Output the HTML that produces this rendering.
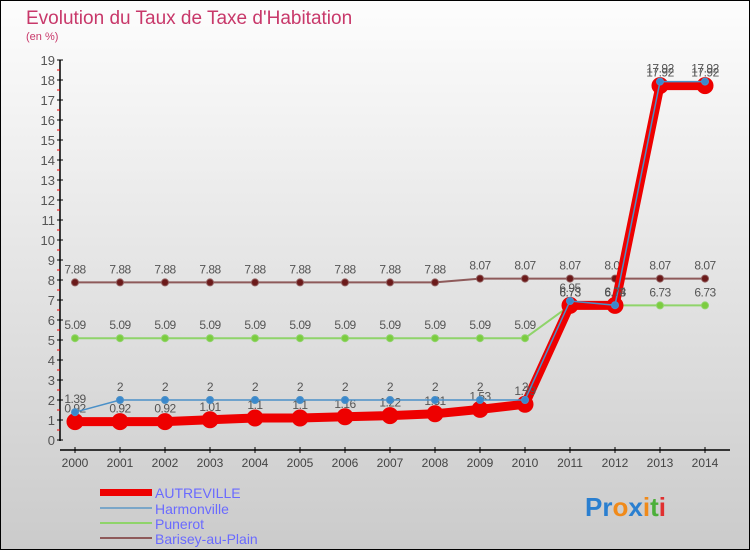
<!DOCTYPE html>
<html><head><meta charset="utf-8"><style>
body{margin:0;width:750px;height:550px;overflow:hidden;font-family:"Liberation Sans",sans-serif}
#wrap{position:absolute;left:0;top:0;width:748px;height:548px;border:1px solid #000;background:linear-gradient(#fdfdfd,#cbcbcb)}
</style></head><body>
<div id="wrap">
<svg id="chart" width="750" height="550" style="position:absolute;left:-1px;top:-1px">
<text x="26" y="24" font-size="19" fill="#c8386a">Evolution du Taux de Taxe d'Habitation</text>
<text x="26" y="40" font-size="11" fill="#c8386a">(en %)</text>
<g id="axes"></g><g id="series"></g>
<g>
<rect x="100" y="489" width="52" height="7" fill="#e00"/>
<text x="155" y="498" font-size="14" fill="#6a6aff">AUTREVILLE</text>
<rect x="100" y="507" width="52" height="2" fill="#7aa6c8"/>
<text x="155" y="514" font-size="14" fill="#6a6aff">Harmonville</text>
<rect x="100" y="522" width="52" height="2" fill="#8fd46a"/>
<text x="155" y="529" font-size="14" fill="#6a6aff">Punerot</text>
<rect x="100" y="537" width="52" height="2" fill="#8e5a5a"/>
<text x="155" y="544" font-size="14" fill="#6a6aff">Barisey-au-Plain</text>
</g>
<text x="585" y="516" font-size="26" font-weight="bold"><tspan fill="#2a7fd0">Pr</tspan><tspan fill="#f08a1a">o</tspan><tspan fill="#2a7fd0">x</tspan><tspan fill="#f08a1a">i</tspan><tspan fill="#4caf3a">t</tspan><tspan fill="#e03030">i</tspan></text>
</svg></div>
<script>
const years=[2000,2001,2002,2003,2004,2005,2006,2007,2008,2009,2010,2011,2012,2013,2014];
const autreville=[0.92,0.92,0.92,1.01,1.1,1.1,1.16,1.22,1.31,1.53,1.79,6.73,6.73,17.72,17.72];
const autrevilleLabels=["0.92","0.92","0.92","1.01","1.1","1.1","1.16","1.22","1.31","1.53","1.79","6.73","6.73","17.92","17.92"];
const harmonville=[1.39,2,2,2,2,2,2,2,2,2,2,6.95,6.74,17.92,17.92];
const punerot=[5.09,5.09,5.09,5.09,5.09,5.09,5.09,5.09,5.09,5.09,5.09,6.73,6.73,6.73,6.73];
const barisey=[7.88,7.88,7.88,7.88,7.88,7.88,7.88,7.88,7.88,8.07,8.07,8.07,8.07,8.07,8.07];
const yTicks=[0,1,2,3,4,5,6,7,8,9,10,11,12,13,14,15,16,17,18,19];
const NS="http://www.w3.org/2000/svg";
const xs=i=>75+i*45, ys=v=>440-v*20;
function mk(t,a,p){const e=document.createElementNS(NS,t);for(const k in a)e.setAttribute(k,a[k]);p.appendChild(e);return e;}
const ax=document.getElementById('axes');
let l=mk('line',{x1:60,y1:60,x2:60,y2:441,stroke:'#000','stroke-width':1.5},ax);


yTicks.forEach(v=>{
 mk('line',{x1:57,x2:63,y1:ys(v),y2:ys(v),stroke:'#000'},ax);
 if(v<19)mk('line',{x1:57,x2:60,y1:ys(v+0.5),y2:ys(v+0.5),stroke:'#e00'},ax);
 const t=mk('text',{x:55,y:ys(v)+5,'font-size':13,fill:'#555','text-anchor':'end'},ax);t.textContent=v;
 
 
});
l=mk('line',{x1:60,y1:450,x2:730,y2:450,stroke:'#000','stroke-width':1.5},ax);


years.forEach((y,i)=>{
 mk('line',{x1:xs(i),x2:xs(i),y1:447,y2:453,stroke:'#000'},ax);
 const t=mk('text',{x:xs(i),y:467,'font-size':12,fill:'#444','text-anchor':'middle'},ax);t.textContent=y;
 
 
});
const sg=document.getElementById('series');
function series(name,vals,labels,color,w,r,fill){
 const g=mk('g',{},sg);
 
 
 const p=mk('polyline',{points:vals.map((v,i)=>xs(i)+','+ys(v)).join(' '),fill:'none',stroke:color,'stroke-width':w,'stroke-linejoin':'round'},g);
 
 
 vals.forEach((v,i)=>{
  const c=mk('circle',{cx:xs(i),cy:ys(v),r:r,fill:fill,stroke:color,'stroke-width':1},g);
  
  
  const t=mk('text',{x:xs(i),y:ys(v)-9,'font-size':12,fill:'#555','text-anchor':'middle','letter-spacing':'-0.5'},g);
  t.textContent=labels?labels[i]:String(v);
  
  
 });
}
series('barisey',barisey,null,'#8e5a5a',2,3.5,'#6b1a1a');
series('punerot',punerot,null,'#8fd46a',2,3.5,'#7ccc40');
series('autreville',autreville,autrevilleLabels,'#e00',9,8,'#e00');
series('harmonville',harmonville,null,'#4a90c8',1.5,3.5,'#3a88cc');
</script>
</body></html>
